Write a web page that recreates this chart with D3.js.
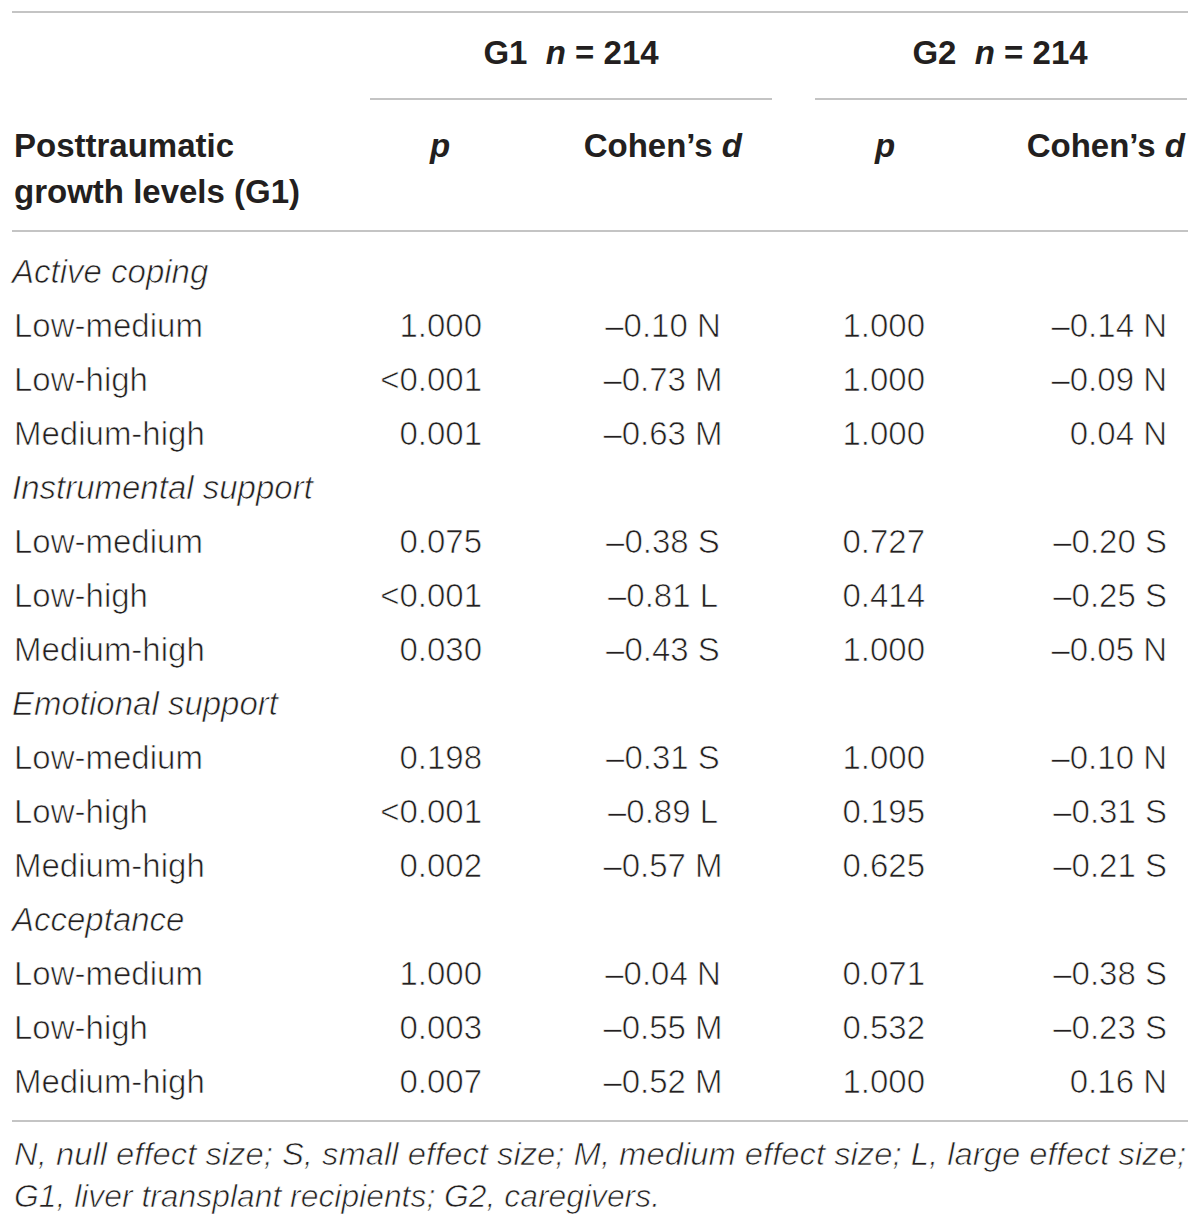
<!DOCTYPE html>
<html>
<head>
<meta charset="utf-8">
<script src="https://cdn.jsdelivr.net/npm/d3@7"></script>
<style>
  body { margin: 0; background: #fff; }
  text { fill: #231f20; }
</style>
</head>
<body>
<div id="chart"></div>
<script>
// table content
const groups = ["Active coping", "Instrumental support", "Emotional support", "Acceptance"];
const comparisons = ["Low-medium", "Low-high", "Medium-high"];
const g1P = ["1.000", "<0.001", "0.001", "0.075", "<0.001", "0.030", "0.198", "<0.001", "0.002", "1.000", "0.003", "0.007"];
const g1D = [-0.10, -0.73, -0.63, -0.38, -0.81, -0.43, -0.31, -0.89, -0.57, -0.04, -0.55, -0.52];
const g1Size = ["N", "M", "M", "S", "L", "S", "S", "L", "M", "N", "M", "M"];
const g2P = ["1.000", "1.000", "1.000", "0.727", "0.414", "1.000", "1.000", "0.195", "0.625", "0.071", "0.532", "1.000"];
const g2D = [-0.14, -0.09, 0.04, -0.20, -0.25, -0.05, -0.10, -0.31, -0.21, -0.38, -0.23, 0.16];
const g2Size = ["N", "N", "N", "S", "S", "N", "N", "S", "S", "S", "S", "N"];
const sampleN = [214, 214];
const footnote = [
    "N, null effect size; S, small effect size; M, medium effect size; L, large effect size;",
    "G1, liver transplant recipients; G2, caregivers."
];

const width = 1200, height = 1227;
const ruleColor = "#c4c4c4";
const bodyFont = "'Liberation Sans', Arial, sans-serif";
const fs = 33;

const svg = d3.select("#chart").append("svg")
    .attr("width", width)
    .attr("height", height)
    .attr("viewBox", [0, 0, width, height]);

// rows: one italic group heading followed by its three comparisons
const rows = [];
groups.forEach((g, gi) => {
    rows.push({type: "group", label: g});
    comparisons.forEach((c, ci) => {
        const k = gi * comparisons.length + ci;
        rows.push({type: "row", label: c, p1: g1P[k], d1: g1D[k], s1: g1Size[k], p2: g2P[k], d2: g2D[k], s2: g2Size[k]});
    });
});

const y = d3.scaleLinear().domain([0, rows.length - 1]).range([283, 1093]);
const col = {label: 14, p1: 482, d1: 663, p2: 925, d2: 1167};

const fmtD = v => (v < 0 ? "\u2013" : "") + d3.format(".2f")(Math.abs(v));

// rules
const rules = [
    [12, 1188, 12], [370, 772, 99], [815, 1187, 99], [12, 1188, 231], [12, 1188, 1121]
];
svg.append("g")
    .selectAll("line")
    .data(rules)
    .join("line")
    .attr("x1", d => d[0]).attr("x2", d => d[1])
    .attr("y1", d => d[2]).attr("y2", d => d[2])
    .attr("stroke", ruleColor)
    .attr("stroke-width", 2);

// header
const head = svg.append("g")
    .style("font-family", bodyFont)
    .style("font-size", "33px")
    .style("font-weight", 700);

[571, 1000].forEach((cx, i) => {
    const t = head.append("text").attr("x", cx).attr("y", 64).attr("text-anchor", "middle");
    t.append("tspan").text(`G${i + 1}\u00a0\u00a0`);
    t.append("tspan").attr("font-style", "italic").text("n");
    t.append("tspan").text(` = ${sampleN[i]}`);
});

head.append("text").attr("x", col.label).attr("y", 157).text("Posttraumatic");
head.append("text").attr("x", col.label).attr("y", 203).text("growth levels (G1)");

[[440, 742], [885, 1185]].forEach(([px, dx]) => {
    head.append("text").attr("x", px).attr("y", 157).attr("text-anchor", "middle")
        .attr("font-style", "italic").text("p");
    const t = head.append("text").attr("x", dx).attr("y", 157).attr("text-anchor", "end");
    t.append("tspan").text("Cohen\u2019s ");
    t.append("tspan").attr("font-style", "italic").text("d");
});

// body (thin white edge to imitate the light face)
const body = svg.append("g")
    .style("font-family", bodyFont)
    .style("font-size", fs + "px")
    .attr("stroke", "#fff")
    .attr("stroke-width", 0.7);

const rowG = body.selectAll("g")
    .data(rows)
    .join("g")
    .attr("transform", (d, i) => `translate(0,${y(i)})`);

rowG.append("text")
    .attr("x", d => d.type === "group" ? col.label - 2 : col.label)
    .attr("font-style", d => d.type === "group" ? "italic" : null)
    .text(d => d.label);

const cells = rowG.filter(d => d.type === "row");
cells.append("text").attr("x", col.p1).attr("text-anchor", "end").text(d => d.p1);
cells.append("text").attr("x", col.d1).attr("text-anchor", "middle").text(d => `${fmtD(d.d1)} ${d.s1}`);
cells.append("text").attr("x", col.p2).attr("text-anchor", "end").text(d => d.p2);
cells.append("text").attr("x", col.d2).attr("text-anchor", "end").text(d => `${fmtD(d.d2)} ${d.s2}`);

// footnote
const foot = svg.append("g")
    .style("font-family", bodyFont)
    .style("font-size", "31px")
    .style("font-style", "italic")
    .attr("stroke", "#fff")
    .attr("stroke-width", 0.7);

foot.selectAll("text")
    .data(footnote)
    .join("text")
    .attr("x", 14)
    .attr("y", (d, i) => 1165 + i * 42)
    .attr("textLength", (d, i) => i === 0 ? 1172 : 646)
    .attr("lengthAdjust", "spacingAndGlyphs")
    .text(d => d);
</script>
</body>
</html>
